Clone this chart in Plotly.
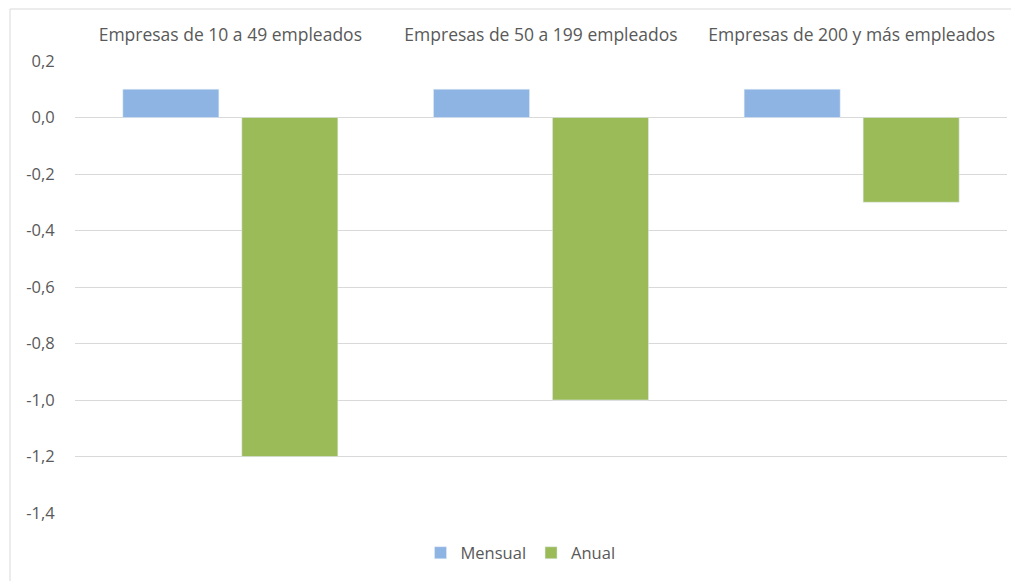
import plotly.graph_objects as go

categories = ["Empresas de 10 a 49 empleados", "Empresas de 50 a 199 empleados", "Empresas de 200 y más empleados"]
mensual = [0.1, 0.1, 0.1]
anual = [-1.2, -1.0, -0.3]
y_ticks = [0.2, 0.0, -0.2, -0.4, -0.6, -0.8, -1.0, -1.2, -1.4]
y_ticktext = [f"{v:.1f}".replace(".", ",") for v in y_ticks]

text_color = "#595959"
font_family = "Open Sans, Liberation Sans, sans-serif"
fs = 16.5

fig = go.Figure()
fig.add_trace(go.Bar(name="Mensual", x=categories, y=mensual, marker_color="#8DB4E2"))
fig.add_trace(go.Bar(name="Anual", x=categories, y=anual, marker_color="#9BBB59"))

# page has an 8px body margin; figure coords = reference coords - 8
W, H = 1019, 581
l, t = 67, 53
r = W - 999
b = H - 505
pw, ph = W - l - r, H - t - b

fig.update_layout(
    width=W, height=H,
    margin=dict(l=l, r=r, t=t, b=b),
    paper_bgcolor="white", plot_bgcolor="white",
    barmode="group", bargap=0.234, bargroupgap=0.193,
    font=dict(family=font_family, size=fs, color=text_color),
    showlegend=True,
    legend=dict(orientation="h", x=(512.5 - l) / pw, xanchor="center", y=(505 - 545) / ph, yanchor="middle",
                font=dict(size=fs, color=text_color), itemwidth=30, traceorder="normal"),
    xaxis=dict(side="top", showgrid=False, showline=False, zeroline=False,
               ticks="outside", ticklen=12, tickcolor="rgba(0,0,0,0)",
               tickfont=dict(size=17.5, color=text_color)),
    yaxis=dict(range=[-1.4, 0.2], tickvals=y_ticks, ticktext=y_ticktext,
               showgrid=True, gridcolor="#D9D9D9", gridwidth=1,
               zeroline=True, zerolinecolor="#D9D9D9", zerolinewidth=1,
               showline=False, ticks="outside", ticklen=16, tickcolor="rgba(0,0,0,0)",
               tickfont=dict(size=fs, color=text_color)),
    shapes=[dict(type="rect", xref="paper", yref="paper",
                 x0=(2 - l) / pw, x1=1.2, y0=-0.5, y1=1 + (t - 1) / ph,
                 line=dict(color="#D9D9D9", width=1), fillcolor="rgba(0,0,0,0)", layer="below")],
)

fig.write_html("out.html")
